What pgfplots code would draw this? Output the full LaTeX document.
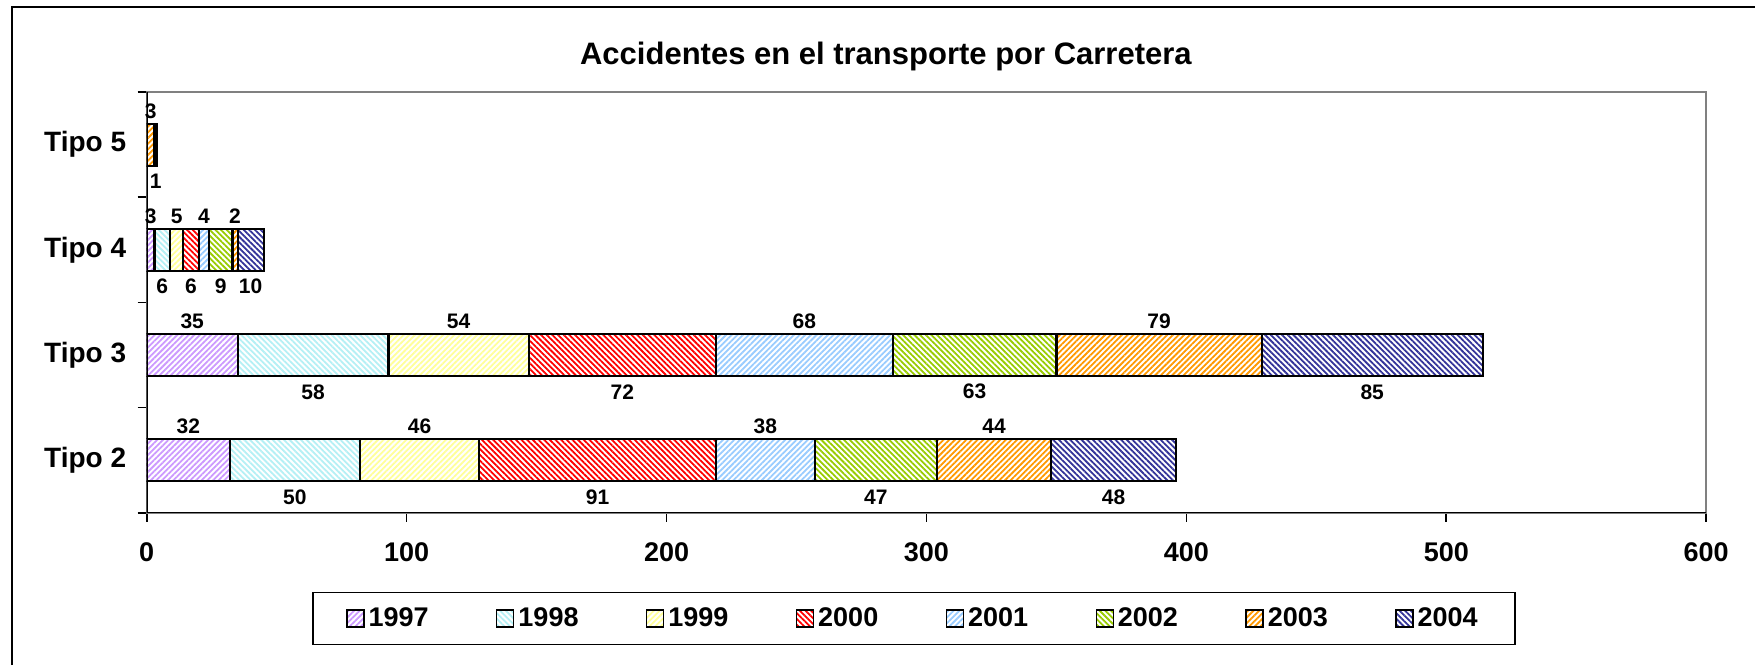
\documentclass[border=0pt]{standalone}
\usepackage{fontspec}
\setmainfont{Liberation Sans}
\usepackage{pgfplots}
\pgfplotsset{compat=1.18}
\usetikzlibrary{patterns.meta}

\definecolor{c97}{RGB}{204,153,255}
\definecolor{c98}{RGB}{180,240,245}
\definecolor{c99}{RGB}{255,255,153}
\definecolor{c00}{RGB}{255,0,0}
\definecolor{c01}{RGB}{153,204,255}
\definecolor{c02}{RGB}{153,204,0}
\definecolor{c03}{RGB}{255,153,0}
\definecolor{c04}{RGB}{51,51,153}

\newcommand{\bigfont}{\fontsize{13.5}{16}\selectfont\bfseries}
\newcommand{\catfont}{\fontsize{14}{16}\selectfont\bfseries}
\newcommand{\titlefont}{\fontsize{15.5}{18}\selectfont\bfseries}
\newcommand{\lblfont}{\fontsize{10.5}{12}\selectfont\bfseries}

\pgfplotsset{
  hatch/.style 2 args={fill=white, draw=black, line width=1.1pt,
    postaction={pattern={Lines[angle=#2,distance=2pt,line width=0.9pt]}, pattern color=#1},
    legend image code/.code={\draw[##1, line width=0.7pt] (0pt,-4.25pt) rectangle (8.5pt,4.25pt);}},
  frame/.style={at={(0,0)}, anchor=south west, scale only axis,
    width=779.75pt, height=210.3pt, xmin=0, xmax=600, ymin=-0.5, ymax=3.5},
}

\begin{document}
\begin{tikzpicture}
\useasboundingbox (-73.35pt,-76.15pt) rectangle (804.15pt,256.35pt);
\draw[line width=1pt] (-67.35pt,-76.15pt) -- (-67.35pt,252.85pt) -- (804.15pt,252.85pt);

\begin{axis}[frame,
  xbar stacked, bar width=21pt,
  xtick={0,100,...,600}, ytick={0,1,2,3},
  yticklabels={Tipo 2,Tipo 3,Tipo 4,Tipo 5},
  minor ytick={-0.5,0.5,1.5,2.5,3.5},
  tick align=outside, tick pos=left,
  major tick length=4.5pt, minor tick length=4.5pt,
  major y tick style={draw=none},
  tick style={black, line width=0.8pt},
  axis line style={draw=gray, line width=1pt},
  ticklabel style={inner sep=0pt},
  /pgf/number format/assume math mode=true,
  xticklabel style={anchor=north, yshift=-10.1pt, font=\bigfont},
  yticklabel style={anchor=east, xshift=-5.6pt, font=\catfont},
  title={Accidentes en el transporte por Carretera},
  title style={at={(0.474,1)}, anchor=center, yshift=11.9pt, font=\titlefont},
  legend columns=8,
  legend style={at={(0.492,-0.2515)}, anchor=center, draw=black, line width=0.6pt,
    font=\bigfont, inner xsep=16.6pt, inner ysep=5.7pt,
    /tikz/every even column/.append style={column sep=31.7pt}},
]
\addplot[hatch={c97}{45}]  coordinates {(32,0) (35,1) (3,2) (0,3)};
\addplot[hatch={c98}{-45}] coordinates {(50,0) (58,1) (6,2) (0,3)};
\addplot[hatch={c99}{45}]  coordinates {(46,0) (54,1) (5,2) (0,3)};
\addplot[hatch={c00}{-45}] coordinates {(91,0) (72,1) (6,2) (0,3)};
\addplot[hatch={c01}{45}]  coordinates {(38,0) (68,1) (4,2) (0,3)};
\addplot[hatch={c02}{-45}] coordinates {(47,0) (63,1) (9,2) (0,3)};
\addplot[hatch={c03}{45}]  coordinates {(44,0) (79,1) (2,2) (3,3)};
\addplot[hatch={c04}{-45}] coordinates {(48,0) (85,1) (10,2) (1,3)};
\legend{1997,1998,1999,2000,2001,2002,2003,2004}
\draw[black, line width=1.2pt] (rel axis cs:0,1) -- (rel axis cs:0,0) -- (rel axis cs:1,0);
\end{axis}

% value labels, centred on their segments
\begin{axis}[frame, hide axis, clip=false]
\addplot[draw=none, mark=none, nodes near coords, point meta=explicit symbolic,
  nodes near coords style={anchor=center, font=\lblfont, inner sep=0pt}]
  coordinates {
  (16,0.32)[32] (105,0.32)[46] (238,0.32)[38] (326,0.32)[44]
  (57,-0.35)[50] (173.5,-0.35)[91] (280.5,-0.35)[47] (372,-0.35)[48]
  (17.5,1.32)[35] (120,1.32)[54] (253,1.32)[68] (389.5,1.32)[79]
  (64,0.65)[58] (183,0.65)[72] (318.5,0.65)[63] (471.5,0.65)[85]
  (1.5,2.32)[3] (11.5,2.32)[5] (22,2.32)[4] (34,2.32)[2]
  (6,1.65)[6] (17,1.65)[6] (28.5,1.65)[9] (40,1.65)[10]
  (1.5,3.32)[3] (3.5,2.65)[1]
  };
\end{axis}
\end{tikzpicture}
\end{document}
